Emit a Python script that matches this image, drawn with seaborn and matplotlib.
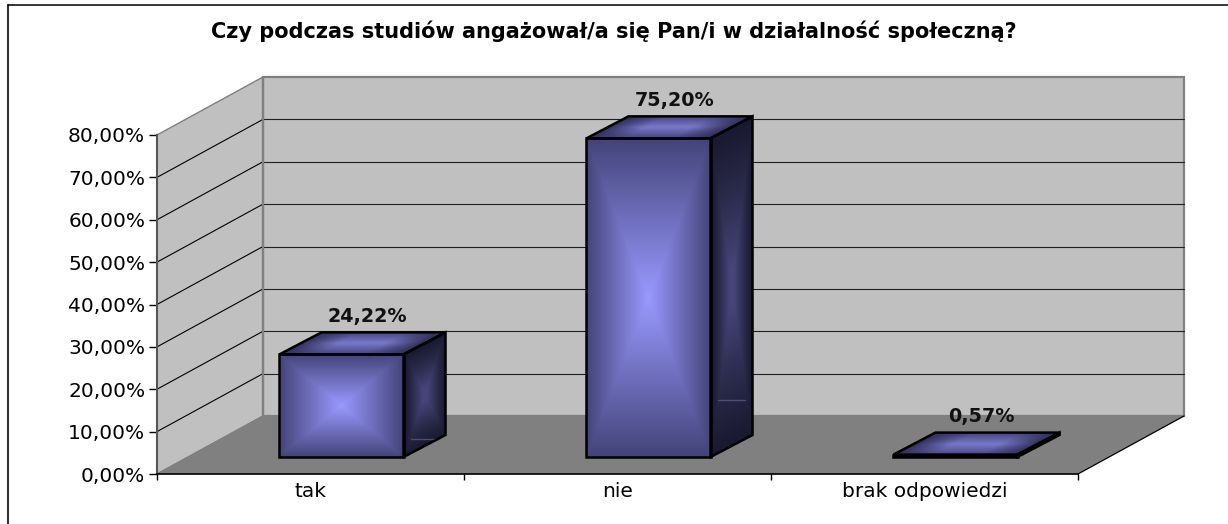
import matplotlib
matplotlib.use('Agg')
import numpy as np
import matplotlib.pyplot as plt
from matplotlib.colors import LinearSegmentedColormap
from matplotlib.patches import Polygon
from matplotlib.transforms import Affine2D, IdentityTransform
import seaborn as sns

# Chart values
title = 'Czy podczas studiów angażował/a się Pan/i w działalność społeczną?'
categories = ['tak', 'nie', 'brak odpowiedzi']
values = [24.22, 75.20, 0.57]
value_labels = ['24,22%', '75,20%', '0,57%']
y_ticks = [0, 10, 20, 30, 40, 50, 60, 70, 80]
y_tick_labels = ['0,00%', '10,00%', '20,00%', '30,00%', '40,00%', '50,00%', '60,00%', '70,00%', '80,00%']

W, H = 1228, 524
LEFT, RIGHT, BASE, TOP = 157, 1078, 474, 135
WALL_DX, WALL_DY = 106, 58
BAR_DX, BAR_DY = 31, 17
SIDE_DX, SIDE_DY = 42, 22

sns.set_style('white')
plt.rcParams['font.family'] = ['DejaVu Sans']

fig = plt.figure(figsize=(W / 100, H / 100), dpi=100, facecolor='white')


def axes_box(dx, dy):
    return [(LEFT + dx) / W, (H - BASE + dy) / H, (RIGHT - LEFT) / W, (BASE - TOP) / H]


ax = fig.add_axes(axes_box(0, 0))
ax.set_xlim(-0.5, 2.5)
ax.set_ylim(0, 80)
ax.set_facecolor('none')

# tick marks sit between the categories, labels in the middle
ax.set_xticks([-0.5, 0.5, 1.5, 2.5])
ax.set_xticklabels([])
ax.set_xticks([0, 1, 2], minor=True)
ax.set_xticklabels(categories, minor=True, fontsize=14.5, color='black')
ax.tick_params(axis='x', which='major', length=4, width=1, color='black', bottom=True)
ax.tick_params(axis='x', which='minor', length=0, pad=6)
ax.set_yticks(y_ticks)
ax.set_yticklabels(y_tick_labels, fontsize=14.5, color='black')
ax.tick_params(axis='y', length=5.5, width=1, color='black', left=True, pad=3)
for side in ['top', 'right']:
    ax.spines[side].set_visible(False)
ax.spines['left'].set_color('#555555')
ax.spines['left'].set_linewidth(1.5)
ax.spines['bottom'].set_color('black')
ax.spines['bottom'].set_linewidth(1.2)

px = IdentityTransform()


def to_px(x, y, depth=False):
    p = ax.transData.transform((x, y))
    if depth:
        p = p + (WALL_DX, WALL_DY)
    return tuple(p)


def add_poly(points, axis, **kw):
    axis.add_patch(Polygon(points, closed=True, transform=px, clip_on=False, **kw))


# walls and floor
x0, x1 = -0.5, 2.5
add_poly([to_px(x0, 0), to_px(x0, 0, True), to_px(x0, 80, True), to_px(x0, 80)], ax,
         facecolor='#c0c0c0', edgecolor='#808080', linewidth=1, zorder=0)
add_poly([to_px(x0, 0, True), to_px(x1, 0, True), to_px(x1, 80, True), to_px(x0, 80, True)], ax,
         facecolor='#c0c0c0', edgecolor='#808080', linewidth=1.6, zorder=0)
add_poly([to_px(x0, 0), to_px(x1, 0), to_px(x1, 0, True), to_px(x0, 0, True)], ax,
         facecolor='#808080', edgecolor='none', zorder=0.5)
for a, b, c in [((x0, 0), (x0, 0), '#808080'), ((x1, 0), (x1, 0), 'black')]:
    p, q = to_px(*a), to_px(*b, True)
    ax.plot([p[0], q[0]], [p[1], q[1]], color=c, lw=0.9, transform=px, clip_on=False, zorder=0.6)
p, q = to_px(x0, 0, True), to_px(x0, 80, True)
ax.plot([p[0], q[0]], [p[1], q[1]], color='#808080', lw=1.6, transform=px, clip_on=False, zorder=0.6)

# gridlines run along the side wall and across the back wall
for v in y_ticks[1:-1]:
    a, b, c = to_px(x0, v), to_px(x0, v, True), to_px(x1, v, True)
    ax.plot([a[0], b[0]], [a[1], b[1]], color='black', lw=0.8, transform=px, clip_on=False, zorder=0.4)
    ax.plot([b[0], c[0]], [b[1], c[1]], color='#202020', lw=0.8, transform=px, clip_on=False, zorder=0.4)

# bars live in a second axes, shifted into the depth of the floor
ax_bar = fig.add_axes(axes_box(BAR_DX, BAR_DY))
sns.barplot(x=categories, y=values, color='#9999ff', saturation=1, width=0.404,
            edgecolor='black', linewidth=1.8, ax=ax_bar)
ax_bar.set_xlim(-0.5, 2.5)
ax_bar.set_ylim(0, 80)
ax_bar.axis('off')

front_cmap = LinearSegmentedColormap.from_list('front', ['#44447a', '#9999ff'])
side_cmap = LinearSegmentedColormap.from_list('side', ['#14142a', '#2a2a4a', '#46467a'])
top_cmap = LinearSegmentedColormap.from_list('top', ['#30305a', '#7878cc'])

u, v = np.meshgrid(np.linspace(-1, 1, 201), np.linspace(-1, 1, 201))
box_grad = 1 - np.maximum(np.abs(u), np.abs(v))
ramp_u = 1 - np.abs(u)
ramp_v = 1 - np.abs(v)


def draw_face(grad, cmap, origin, vec_u, vec_v):
    im = ax_bar.imshow(grad, cmap=cmap, vmin=0, vmax=1, origin='lower', extent=(0, 1, 0, 1),
                       aspect='auto', interpolation='bilinear', zorder=1)
    im.set_transform(Affine2D.from_values(vec_u[0], vec_u[1], vec_v[0], vec_v[1], origin[0], origin[1]))
    im.set_clip_on(False)
    return im


for bar in ax_bar.patches:
    bar.set_facecolor('none')
    bar.set_zorder(3)
    bar.set_clip_on(False)
    (xa, ya), (xb, yb) = ax_bar.transData.transform(
        [(bar.get_x(), bar.get_y()), (bar.get_x() + bar.get_width(), bar.get_y() + bar.get_height())])
    w, h = xb - xa, yb - ya
    draw_face(box_grad, front_cmap, (xa, ya), (w, 0), (0, h))
    draw_face(np.minimum(ramp_u + 0.1, ramp_v + 0.1), side_cmap, (xb, ya), (SIDE_DX, SIDE_DY), (0, h))
    draw_face(np.minimum(ramp_u * 1.6, 1) * (0.3 + 0.7 * ramp_v), top_cmap, (xa, yb), (w, 0), (SIDE_DX, SIDE_DY))
    # faint highlight low on the side face
    if h > 20:
        ax_bar.plot([xb + 7, xb + 34], [ya + 0.18 * h] * 2, color='#4c4c74', lw=1,
                    transform=px, clip_on=False, zorder=2)
    for pts in [[(xb, ya), (xb + SIDE_DX, ya + SIDE_DY), (xb + SIDE_DX, yb + SIDE_DY), (xb, yb)],
                [(xa, yb), (xb, yb), (xb + SIDE_DX, yb + SIDE_DY), (xa + SIDE_DX, yb + SIDE_DY)]]:
        add_poly(pts, ax_bar, facecolor='none', edgecolor='black', linewidth=1.8, zorder=2.5, joinstyle='miter')

ax_bar.set_xlim(-0.5, 2.5)
ax_bar.set_ylim(0, 80)

for i, (val, lab) in enumerate(zip(values, value_labels)):
    ax_bar.annotate(lab, xy=(i, val), xytext=(26, 38), textcoords='offset pixels', ha='center', va='center',
                    fontsize=13.8, fontweight='bold', color='#111111', annotation_clip=False, zorder=5)

fig.text(614 / W, 1 - 31 / H, title, ha='center', va='center', fontsize=15, fontweight='bold', color='black')

# outer chart border: only the top and left edges are inside the picture
fig.add_artist(plt.Line2D([8, 8], [0, H - 4.5], color='#333333', lw=1.5, transform=px, clip_on=False))
fig.add_artist(plt.Line2D([8, W], [H - 4.5, H - 4.5], color='black', lw=1.1, transform=px, clip_on=False))

fig.savefig('out.png', dpi=100)
